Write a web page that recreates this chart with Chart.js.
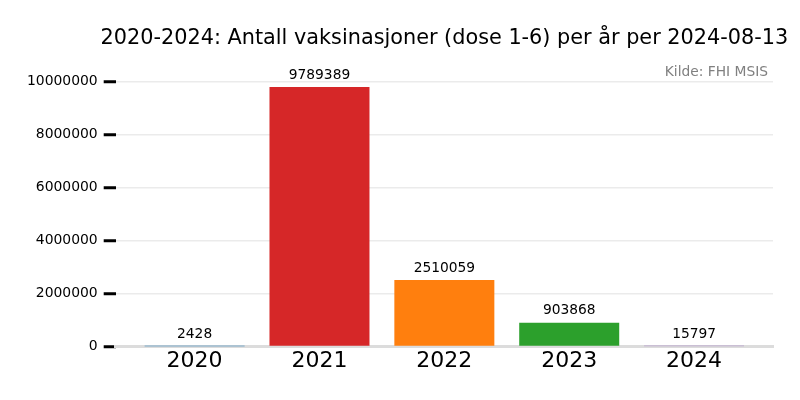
<!DOCTYPE html>
<html>
<head>
<meta charset="utf-8">
<script src="https://cdn.jsdelivr.net/npm/chart.js@4"></script>
<style>
  html, body { margin: 0; padding: 0; background: #fff; }
  #wrap { width: 800px; height: 400px; }
</style>
</head>
<body>
<div id="wrap"><canvas id="chart"></canvas></div>
<script>
const years = ["2020", "2021", "2022", "2023", "2024"];
const doses = [2428, 9789389, 2510059, 903868, 15797];
const barColors = ["#1f77b4", "#d62728", "#ff7f0e", "#2ca02c", "#9467bd"];
const yTicks = [0, 2000000, 4000000, 6000000, 8000000, 10000000];
const titleText = "2020-2024: Antall vaksinasjoner (dose 1-6) per år per 2024-08-13";
const sourceText = "Kilde: FHI MSIS";

const font = "'DejaVu Sans', sans-serif";

// title, source note and value labels on top of bars
const extras = {
  id: "extras",
  afterDraw(chart) {
    const ctx = chart.ctx;
    const area = chart.chartArea;
    ctx.save();
    ctx.textAlign = "center";
    ctx.textBaseline = "middle";
    ctx.fillStyle = "#000";
    ctx.font = "20.8px " + font;
    ctx.fillText(titleText, (area.left + area.right) / 2, 39);

    ctx.textAlign = "right";
    ctx.fillStyle = "#808080";
    ctx.font = "13.8px " + font;
    ctx.fillText(sourceText, 768, 72);

    ctx.textAlign = "center";
    ctx.fillStyle = "#000";
    ctx.font = "13.8px " + font;
    chart.getDatasetMeta(0).data.forEach(function (bar, i) {
      ctx.fillText(String(doses[i]), bar.x, bar.y - 12);
    });
    ctx.restore();
  }
};

new Chart(document.getElementById("chart"), {
  type: "bar",
  data: {
    datasets: [{
      data: doses.map(function (v, i) { return { x: i, y: v }; }),
      backgroundColor: barColors,
      borderWidth: 0,
      inflateAmount: 0,
      barThickness: 100
    }]
  },
  options: {
    responsive: true,
    maintainAspectRatio: false,
    animation: false,
    devicePixelRatio: 1,
    layout: { padding: { top: 74, right: 27, bottom: 33, left: 21 } },
    plugins: {
      legend: { display: false },
      tooltip: { enabled: false }
    },
    scales: {
      x: {
        type: "linear",
        offset: false,
        z: 1,
        min: -0.632,
        max: 4.632,
        afterBuildTicks: function (scale) {
          scale.ticks = years.map(function (_, i) { return { value: i }; });
        },
        grid: { display: false },
        border: { display: true, color: "#dcdcdc", width: 3 },
        ticks: {
          callback: function (v) { return years[v]; },
          color: "#000",
          font: { family: font, size: 22 },
          padding: -7,
          maxRotation: 0
        }
      },
      y: {
        min: 0,
        max: 10278858,
        afterBuildTicks: function (scale) {
          scale.ticks = yTicks.map(function (v) { return { value: v }; });
        },
        grid: {
          color: "#ebebeb",
          lineWidth: 1.5,
          tickColor: "#000",
          tickWidth: 3,
          tickLength: 12
        },
        border: { display: false },
        ticks: {
          callback: function (v) { return String(v); },
          color: "#000",
          font: { family: font, size: 13.9 },
          padding: 6
        }
      }
    }
  },
  plugins: [extras]
});
</script>
</body>
</html>
